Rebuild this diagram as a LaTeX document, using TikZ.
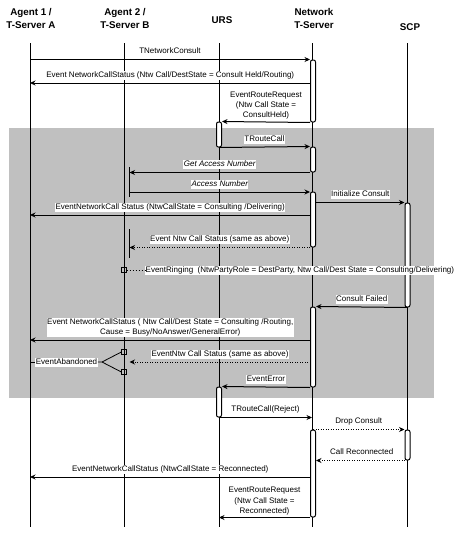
\documentclass[tikz,border=0pt]{standalone}
\usepackage{fontspec}
\setmainfont{Liberation Sans}
\usetikzlibrary{arrows.meta}
\definecolor{bandgray}{RGB}{192,192,192}
\begin{document}
\begin{tikzpicture}[x=1pt,y=-1pt,
  lifeline/.style={line width=1pt},
  msg/.style={line width=1pt,-{Stealth[length=5.5pt,width=5pt]}},
  dmsg/.style={msg,dash pattern=on 1pt off 1.5pt},
  act/.style={draw,fill=white,line width=1pt,rounded corners=2pt,minimum width=5pt,inner sep=0pt},
  lbl/.style={fill=white,inner sep=0.5pt,font=\fontsize{8}{10.5}\selectfont,text height=6pt,text depth=2pt},
  lblm/.style={fill=white,inner sep=0.5pt,font=\fontsize{8}{10.3}\selectfont,align=center},
  hdr/.style={font=\bfseries\fontsize{9.8}{13}\selectfont,align=center},
  sq/.style={draw,line width=0.8pt,minimum size=4.5pt,inner sep=0pt}]
\useasboundingbox (0,0) rectangle (471,533);
% shaded band
\fill[bandgray] (9,128) rectangle (434,398);
% headers
\node[hdr] (hA1) at (31,18.5) {Agent 1 /\\T-Server A};
\node[hdr] (hA2) at (125,18.5) {Agent 2 /\\T-Server B};
\node[hdr] (hU) at (222,20) {URS};
\node[hdr] (hN) at (314,18.5) {Network\\T-Server};
\node[hdr] (hS) at (410,27) {SCP};
% lifelines
\coordinate (A1t) at (30,43);  \coordinate (A1b) at (30,527);
\coordinate (A2t) at (124,43); \coordinate (A2b) at (124,527);
\coordinate (Ut) at (219,43);  \coordinate (Ub) at (219,527);
\coordinate (Nt) at (312,43);  \coordinate (Nb) at (312,527);
\coordinate (St) at (407,43);  \coordinate (Sb) at (407,527);
\foreach \l in {A1,A2,U,N,S} \draw[lifeline] (\l t) -- (\l b);
% short agent-2 lines
\coordinate (a2s1t) at (129.5,167); \coordinate (a2s1b) at (129.5,197);
\coordinate (a2s2t) at (129.5,229); \coordinate (a2s2b) at (129.5,258);
\draw[lifeline] (a2s1t) -- (a2s1b);
\draw[lifeline] (a2s2t) -- (a2s2b);
% activation bars
\node[act,minimum height=62pt] (nb1) at (313,91) {};
\node[act,minimum height=25pt] (ub1) at (219,134.5) {};
\node[act,minimum height=25pt] (nb2) at (313,159.5) {};
\node[act,minimum height=55pt] (nb3) at (313,219.5) {};
\node[act,minimum height=104pt] (sb1) at (407.5,255) {};
\node[act,minimum height=80pt] (nb4) at (313,347) {};
\node[act,minimum height=30pt] (ub2) at (219,402) {};
\node[act,minimum height=87pt] (nb5) at (313,473.5) {};
\node[act,minimum height=30pt] (sb2) at (407.5,445) {};
% messages
\draw[msg] (A1t |- nb1.north) -- node[lbl,above=3pt] (l1) {TNetworkConsult} (nb1.north west);
\coordinate (m2) at (310.5,83);
\draw[msg] (m2) -- node[lbl,above=3pt] (l2) {Event NetworkCallStatus (Ntw Call/DestState = Consult Held/Routing)} (A1t |- m2);
\draw[msg] (nb1.south west) -- node[lblm,above=1.5pt] (l3) {EventRouteRequest\\(Ntw Call State =\\ConsultHeld)} (ub1.north east);
\draw[msg] (ub1.south) -- node[lbl,above=3pt] (l4) {TRouteCall} (nb2.north west);
\draw[msg] (nb2.south west) -- node[lbl,above=3pt] (l5) {\itshape Get Access Number} (a2s1t |- nb2.south);
\coordinate (m6) at (129.5,192);
\draw[msg] (m6) -- node[lbl,above=3pt] (l6) {\itshape Access Number} (nb3.north west |- m6);
\draw[msg] (nb3.east |- sb1.north) -- node[lbl,above=3pt] (l7) {Initialize Consult} (sb1.north west);
\coordinate (m8) at (310.5,215);
\draw[msg] (m8) -- node[lbl,above=3pt] (l8) {EventNetworkCall Status (NtwCallState = Consulting /Delivering)} (A1t |- m8);
\draw[dmsg] (nb3.south west) -- node[lbl,above=3pt] (l9) {Event Ntw Call Status (same as above)} (a2s2t |- nb3.south);
% EventRinging
\node[sq] (sqR) at (124,270) {};
\node[lbl,anchor=west] (l10) at (145,270) {EventRinging\ \ (NtwPartyRole = DestParty, Ntw Call/Dest State = Consulting/Delivering)};
\draw[line width=1pt,dash pattern=on 1pt off 2pt] (sqR.east) -- (l10.west);
\draw[msg] (sb1.south) -- node[lbl,above=3pt] (l11) {Consult Failed} (nb4.north east);
\coordinate (m12) at (310.5,340);
\draw[msg] (m12) -- node[lblm,above=2.5pt] (l12) {Event NetworkCallStatus ( Ntw Call/Dest State = Consulting /Routing,\\Cause = Busy/NoAnswer/GeneralError)} (A1t |- m12);
\coordinate (m13) at (310.5,362);
\draw[dmsg] (m13) -- node[lbl,above=3pt] (l13) {EventNtw Call Status (same as above)} (a2s2t |- m13);
% EventAbandoned
\node[sq] (sqA1) at (124,352) {};
\node[sq] (sqA2) at (124,372) {};
\node[lbl] (lab) at (66.5,362) {EventAbandoned};
\draw[line width=0.8pt] (A1t |- lab) -- (lab.west);
\coordinate (abj) at (102,362);
\draw[line width=0.8pt] (lab.east) -- (abj) -- (sqA1.west);
\draw[line width=0.8pt] (abj) -- (sqA2.west);
\draw[msg] (nb4.south west) -- node[lbl,above=3pt] (l14) {EventError} (ub2.north east);
\draw[msg] (ub2.south) -- node[lbl,above=3pt] (l15) {TRouteCall(Reject)} (Nt |- ub2.south);
\draw[dmsg] (nb5.north) -- node[lbl,above=3pt] (l16) {Drop Consult} (sb2.north west);
\draw[dmsg] (sb2.south) -- node[lbl,above=3pt] (l17) {Call Reconnected} (nb5.east |- sb2.south);
\coordinate (m18) at (310.5,477);
\draw[msg] (m18) -- node[lbl,above=3pt] (l18) {EventNetworkCallStatus (NtwCallState = Reconnected)} (A1t |- m18);
\draw[msg] (nb5.south west) -- node[lblm,above=1.5pt] (l19) {EventRouteRequest\\(Ntw Call State =\\Reconnected)} (Ut |- nb5.south);
\end{tikzpicture}
\end{document}
